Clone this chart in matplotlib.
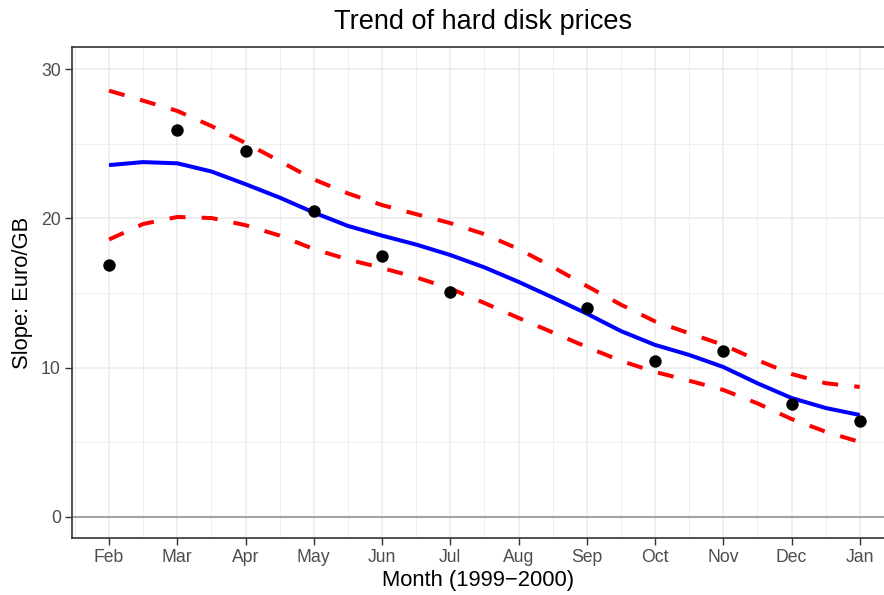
import matplotlib
matplotlib.use("Agg")
import matplotlib.pyplot as plt
import numpy as np

plt.rcParams['font.family'] = ['Liberation Sans', 'DejaVu Sans']

# ---- data ----
months = ["Feb", "Mar", "Apr", "May", "Jun", "Jul", "Aug", "Sep", "Oct", "Nov", "Dec", "Jan"]
point_months = ["Feb", "Mar", "Apr", "May", "Jun", "Jul", "Sep", "Oct", "Nov", "Dec", "Jan"]
point_values = [16.85, 25.93, 24.53, 20.53, 17.50, 15.04, 14.00, 10.44, 11.11, 7.56, 6.42]

# smooth fit sampled every half month (Feb .. Jan)
fit_pos = [0, 0.5, 1, 1.5, 2, 2.5, 3, 3.5, 4, 4.5, 5, 5.5, 6, 6.5, 7, 7.5, 8, 8.5, 9, 9.5, 10, 10.5, 11]
fit_mid = [23.58, 23.78, 23.70, 23.15, 22.30, 21.40, 20.40, 19.50, 18.85, 18.25, 17.55, 16.72,
           15.75, 14.70, 13.62, 12.45, 11.52, 10.85, 10.04, 8.95, 7.96, 7.29, 6.82]
fit_upper = [28.57, 27.90, 27.21, 26.20, 25.06, 23.85, 22.62, 21.68, 20.90, 20.29, 19.69, 18.95,
             17.95, 16.75, 15.47, 14.22, 13.10, 12.30, 11.52, 10.50, 9.57, 8.95, 8.70]
fit_lower = [18.59, 19.63, 20.10, 20.03, 19.55, 18.85, 17.95, 17.25, 16.68, 16.05, 15.30, 14.33,
             13.33, 12.36, 11.38, 10.45, 9.71, 9.12, 8.50, 7.60, 6.55, 5.70, 5.01]

y_ticks = [0, 10, 20, 30]

# ---- figure ----
W, H = 884, 595
fig = plt.figure(figsize=(W / 100, H / 100), dpi=100)
left, right, top, bottom = 72, 885, 47, 538
ax = fig.add_axes([left / W, 1 - bottom / H, (right - left) / W, (bottom - top) / H])

# grid
ax.set_xticks(range(len(months)))
ax.set_xticks(np.arange(-0.5, 11.0, 1.0), minor=True)
ax.set_yticks(y_ticks)
ax.set_yticks([5, 15, 25], minor=True)
ax.grid(which='major', color='#EBEBEB', linewidth=1.1)
ax.grid(which='minor', color='#EBEBEB', linewidth=0.55)
ax.set_axisbelow(True)

ax.axhline(0, color='#A3A3A3', linewidth=1.5, zorder=1)

pos = {m: i for i, m in enumerate(months)}
px = [pos[m] for m in point_months]
ax.scatter(px, point_values, s=80, color='black', zorder=4, linewidths=0)

ax.plot(fit_pos, fit_mid, color='#0000FF', linewidth=2.9, zorder=3,
        solid_capstyle='butt', solid_joinstyle='round')
for band in (fit_upper, fit_lower):
    ax.plot(fit_pos, band, color='#FF0000', linewidth=2.9, dashes=(4, 4),
            dash_capstyle='butt', dash_joinstyle='round', zorder=3)

ax.set_xticklabels(months)
ax.tick_params(axis='both', which='major', length=5, width=1.0, color='#333333',
               labelcolor='#4D4D4D', labelsize=12.7, pad=3)
ax.tick_params(axis='both', which='minor', length=0)

ax.set_xlim(-0.543, 11.37)
ax.set_ylim(-1.43, 31.5)

for s in ax.spines.values():
    s.set_color('#333333')
    s.set_linewidth(1.2)

ax.set_xlabel("Month (1999\u22122000)", fontsize=15.8, color='black', labelpad=3)
ax.set_ylabel("Slope: Euro/GB", fontsize=15.8, color='black', labelpad=6)
fig.suptitle("Trend of hard disk prices", fontsize=19.5, x=483 / W, y=1 - 22 / H,
             va='center')

fig.savefig("out.png", dpi=100)
